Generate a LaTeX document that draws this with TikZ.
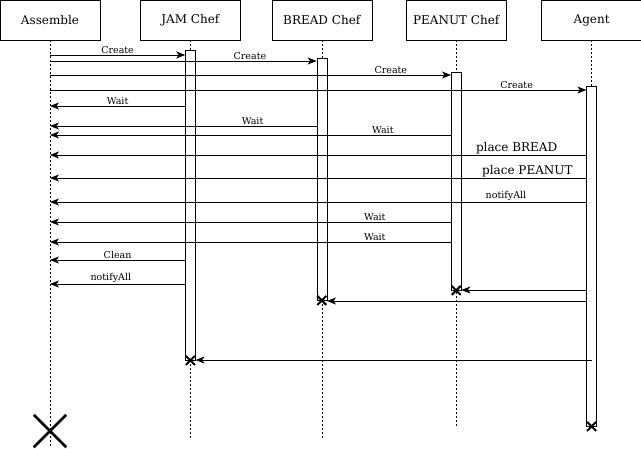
\documentclass[tikz,border=0pt]{standalone}
\usepackage{fontspec}
\setmainfont{DejaVu Serif}
\usetikzlibrary{positioning}
\usetikzlibrary{arrows.meta}
\usetikzlibrary{shapes.misc}
\tikzset{
    head/.style={
        draw,
        minimum width=100pt,
        minimum height=40pt,
        font=\fontsize{12}{14}\selectfont
    },
    bar/.style={
        draw,
        fill=white,
        minimum width=10pt,
        inner sep=0pt,
        anchor=north
    },
    life/.style={
        dash pattern=on 2pt off 2pt
    },
    msg/.style={
        -{Stealth[length=9pt,width=7pt,inset=2.5pt]},
        line width=0.9pt
    },
    lbl/.style={
        above,
        inner sep=1pt,
        font=\fontsize{9.5}{11}\selectfont
    },
    biglbl/.style={
        lbl,
        font=\fontsize{12}{14}\selectfont
    },
    kill/.style={
        draw,
        cross out,
        line width=2pt,
        minimum size=7pt,
        inner sep=0pt
    }
}

\begin{document}
\begin{tikzpicture}[x=1pt, y=-1pt]
    \useasboundingbox (0,0) rectangle (641,448);

    % heads
    \node[head] (asm) at (50,20) {Assemble};
    \node[head, right=40pt of asm] (jam) {JAM Chef};
    \node[head, right=31pt of jam] (bread) {BREAD Chef};
    \node[head, right=34pt of bread] (peanut) {PEANUT Chef};
    \node[head, right=35pt of peanut] (agent) {Agent};

    % lifelines
    \coordinate (asmend) at (asm.south |- 0,448);
    \coordinate (jamend) at (jam.south |- 0,440);
    \coordinate (breadend) at (bread.south |- 0,440);
    \coordinate (peanutend) at (peanut.south |- 0,427);
    \draw[life] (asm.south) -- (asmend);
    \draw[life] (jam.south) -- (jamend);
    \draw[life] (bread.south) -- (breadend);
    \draw[life] (peanut.south) -- (peanutend);

    \node[bar, minimum height=310pt] (jambar) at (jam.south |- 0,50) {};
    \node[bar, minimum height=242pt] (breadbar) at (bread.south |- 0,58) {};
    \node[bar, minimum height=218pt] (peanutbar) at (peanut.south |- 0,72) {};
    \node[bar, minimum height=340pt] (agentbar) at (agent.south |- 0,86) {};
    \draw[life] (agent.south) -- (agentbar.north);

    % messages
    \draw[msg] (asm.south |- 0,55) -- (jambar.west |- 0,55) node[lbl, midway] {Create};
    \draw[msg] (asm.south |- 0,61) -- (breadbar.west |- 0,61) node[lbl, pos=0.75] {Create};
    \draw[msg] (asm.south |- 0,75) -- (peanutbar.west |- 0,75) node[lbl, pos=0.85] {Create};
    \draw[msg] (asm.south |- 0,90) -- (agentbar.west |- 0,90) node[lbl, pos=0.87] {Create};

    \draw[msg] (jambar.west |- 0,106) -- (asm.south |- 0,106) node[lbl, midway] {Wait};
    \draw[msg] (breadbar.west |- 0,126) -- (asm.south |- 0,126) node[lbl, pos=0.24] {Wait};
    \draw[msg] (peanutbar.west |- 0,135) -- (asm.south |- 0,135) node[lbl, pos=0.17] {Wait};
    \draw[msg] (agentbar.west |- 0,155) -- (asm.south |- 0,155) node[biglbl, pos=0.13] {place BREAD};
    \draw[msg] (agentbar.west |- 0,178) -- (asm.south |- 0,178) node[biglbl, pos=0.11] {place PEANUT};
    \draw[msg] (agentbar.west |- 0,202) -- (asm.south |- 0,202) node[lbl, pos=0.15] {notifyAll};
    \draw[msg] (peanutbar.west |- 0,222) -- (asm.south |- 0,222) node[lbl, pos=0.19] {Wait};
    \draw[msg] (peanutbar.west |- 0,242) -- (asm.south |- 0,242) node[lbl, pos=0.19] {Wait};
    \draw[msg] (jambar.west |- 0,260) -- (asm.south |- 0,260) node[lbl, midway] {Clean};
    \draw[msg] (jambar.west |- 0,284) -- (asm.south |- 0,284) node[lbl, pos=0.55] {notifyAll};

    \draw[msg] (agentbar.west |- 0,290) -- (peanutbar.east |- 0,290);
    \draw[msg] (agentbar.west |- 0,301) -- (breadbar.east |- 0,301);
    \draw[msg] (agentbar |- 0,360) -- (jambar.east |- 0,360);

    % ends
    \node[kill] (jamx) at (jambar.south) {};
    \node[kill] (breadx) at (breadbar.south) {};
    \node[kill] (peanutx) at (peanutbar.south) {};
    \node[kill] (agentx) at (agentbar.south) {};
    \node[kill, minimum size=30pt, line width=2.5pt] (asmx) at (asm.south |- 0,431) {};
\end{tikzpicture}
\end{document}
